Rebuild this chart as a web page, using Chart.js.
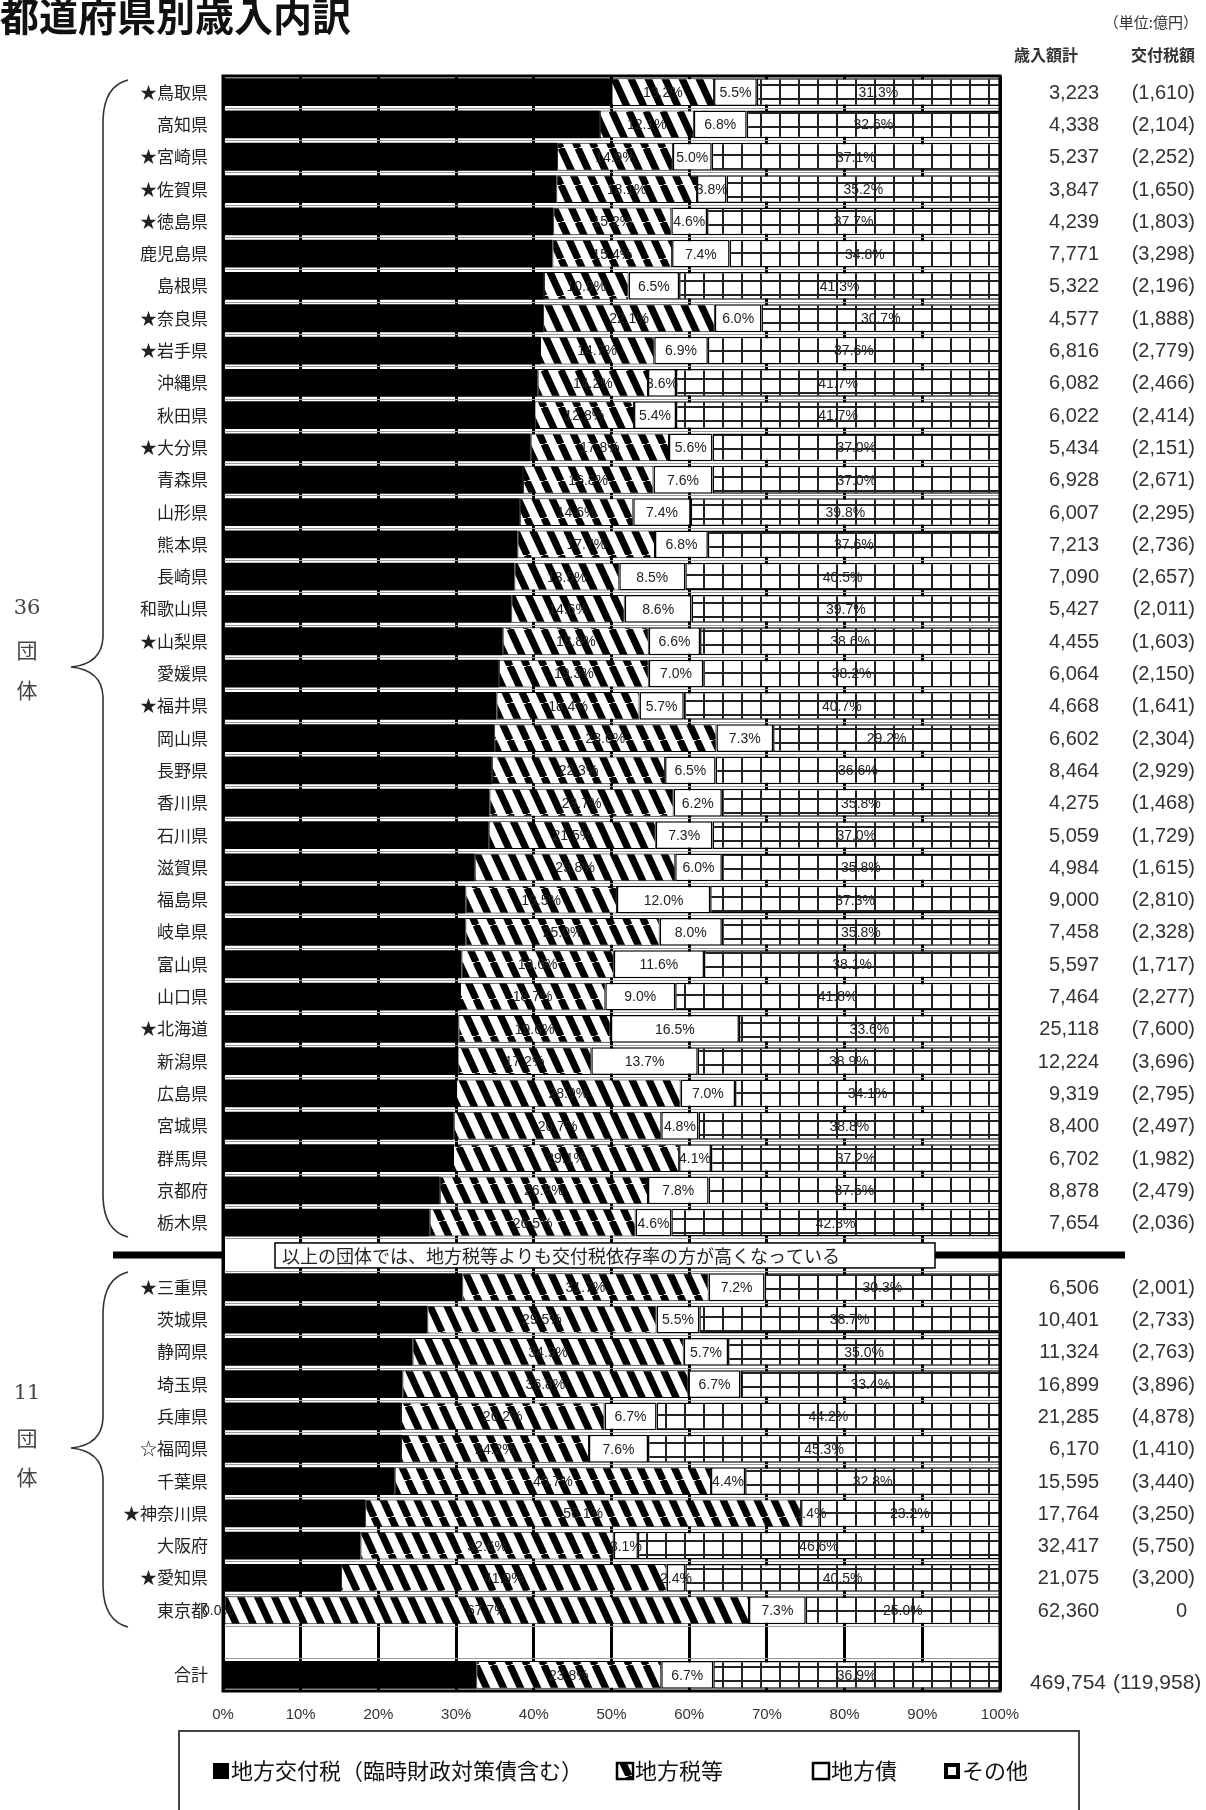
<!DOCTYPE html>
<html lang="ja">
<head>
<meta charset="utf-8">
<title>都道府県別歳入内訳</title>
<script src="https://cdn.jsdelivr.net/npm/chart.js@4.4.1/dist/chart.umd.min.js"></script>
<style>
  html, body { margin: 0; padding: 0; background: #fff; }
  #wrap { width: 1206px; height: 1810px; }
</style>
</head>
<body>
<div id="wrap"><canvas id="kaikei" width="1206" height="1810"></canvas></div>
<script>
// 団体名 (上から順、最後は合計)
var dantai = ['★鳥取県', '高知県', '★宮崎県', '★佐賀県', '★徳島県', '鹿児島県', '島根県', '★奈良県', '★岩手県', '沖縄県',
  '秋田県', '★大分県', '青森県', '山形県', '熊本県', '長崎県', '和歌山県', '★山梨県', '愛媛県', '★福井県',
  '岡山県', '長野県', '香川県', '石川県', '滋賀県', '福島県', '岐阜県', '富山県', '山口県', '★北海道',
  '新潟県', '広島県', '宮城県', '群馬県', '京都府', '栃木県',
  '★三重県', '茨城県', '静岡県', '埼玉県', '兵庫県', '☆福岡県', '千葉県', '★神奈川県', '大阪府', '★愛知県', '東京都',
  '合計'];

// 構成比 (%)
var kofuzei = [50.0, 48.5, 43.0, 42.9, 42.5, 42.4, 41.3, 41.2, 40.8, 40.5,
  40.1, 39.6, 38.6, 38.2, 37.9, 37.5, 37.1, 36.0, 35.5, 35.2,
  34.9, 34.6, 34.3, 34.2, 32.4, 31.2, 31.2, 30.7, 30.5, 30.3,
  30.2, 30.0, 29.7, 29.6, 27.9, 26.6,
  30.8, 26.3, 24.4, 23.1, 22.9, 22.9, 22.1, 18.3, 17.7, 15.2, 0.0,
  32.6];
var chihozei = [13.2, 12.1, 14.9, 18.1, 15.2, 15.4, 10.9, 22.1, 14.7, 14.2,
  12.8, 17.8, 16.8, 14.6, 17.7, 13.5, 14.6, 18.8, 19.3, 18.4,
  28.6, 22.3, 23.7, 21.5, 25.8, 19.5, 25.0, 19.6, 18.7, 19.6,
  17.2, 28.9, 26.7, 29.1, 26.8, 26.5,
  31.7, 29.5, 34.9, 36.8, 26.2, 24.2, 40.7, 56.1, 32.6, 41.9, 67.7,
  23.8];
var chihosai = [5.5, 6.8, 5.0, 3.8, 4.6, 7.4, 6.5, 6.0, 6.9, 3.6,
  5.4, 5.6, 7.6, 7.4, 6.8, 8.5, 8.6, 6.6, 7.0, 5.7,
  7.3, 6.5, 6.2, 7.3, 6.0, 12.0, 8.0, 11.6, 9.0, 16.5,
  13.7, 7.0, 4.8, 4.1, 7.8, 4.6,
  7.2, 5.5, 5.7, 6.7, 6.7, 7.6, 4.4, 2.4, 3.1, 2.4, 7.3,
  6.7];
var sonota = [31.3, 32.6, 37.1, 35.2, 37.7, 34.8, 41.3, 30.7, 37.6, 41.7,
  41.7, 37.0, 37.0, 39.8, 37.6, 40.5, 39.7, 38.6, 38.2, 40.7,
  29.2, 36.6, 35.8, 37.0, 35.8, 37.3, 35.8, 38.1, 41.8, 33.6,
  38.9, 34.1, 38.8, 37.2, 37.5, 42.3,
  30.3, 38.7, 35.0, 33.4, 44.2, 45.3, 32.8, 23.2, 46.6, 40.5, 25.0,
  36.9];

// 歳入額計・交付税額 (億円)
var sainyu = [3223, 4338, 5237, 3847, 4239, 7771, 5322, 4577, 6816, 6082,
  6022, 5434, 6928, 6007, 7213, 7090, 5427, 4455, 6064, 4668,
  6602, 8464, 4275, 5059, 4984, 9000, 7458, 5597, 7464, 25118,
  12224, 9319, 8400, 6702, 8878, 7654,
  6506, 10401, 11324, 16899, 21285, 6170, 15595, 17764, 32417, 21075, 62360,
  469754];
var kofugaku = [1610, 2104, 2252, 1650, 1803, 3298, 2196, 1888, 2779, 2466,
  2414, 2151, 2671, 2295, 2736, 2657, 2011, 1603, 2150, 1641,
  2304, 2929, 1468, 1729, 1615, 2810, 2328, 1717, 2277, 7600,
  3696, 2795, 2497, 1982, 2479, 2036,
  2001, 2733, 2763, 3896, 4878, 1410, 3440, 3250, 5750, 3200, 0,
  119958];

var hanrei = ['地方交付税（臨時財政対策債含む）', '地方税等', '地方債', 'その他'];
var nota = '以上の団体では、地方税等よりも交付税依存率の方が高くなっている';

// 36団体と11団体の間、東京都と合計の間に空き行を入れる
function comEspaco(arr, vazio) {
  return arr.slice(0, 36).concat([vazio], arr.slice(36, 47), [vazio], arr.slice(47));
}

function fmt(n) { return n.toLocaleString('en-US'); }

// 斜線
function padraoHachura() {
  var c = document.createElement('canvas');
  c.width = 17; c.height = 37;
  var g = c.getContext('2d');
  g.fillStyle = '#fff'; g.fillRect(0, 0, 17, 37);
  g.strokeStyle = '#000'; g.lineWidth = 7;
  [-17, 0, 17].forEach(function (o) {
    g.beginPath(); g.moveTo(o, 0); g.lineTo(o + 17, 37); g.stroke();
  });
  return g.createPattern(c, 'repeat');
}
// 格子
function padraoGrade() {
  var c = document.createElement('canvas');
  c.width = 19; c.height = 14;
  var g = c.getContext('2d');
  g.fillStyle = '#fff'; g.fillRect(0, 0, 19, 14);
  g.fillStyle = '#222';
  g.fillRect(0, 0, 2, 14);
  g.fillRect(0, 0, 19, 2);
  return g.createPattern(c, 'repeat');
}

var hachura = padraoHachura();
var grade = padraoGrade();

var FONT_JP = '"Noto Sans CJK JP", "Noto Sans", sans-serif';
var FONT_NUM = '"Liberation Sans Narrow", "Liberation Sans", sans-serif';

function chave(ctx, x, top, mid, bottom) {
  ctx.beginPath();
  ctx.moveTo(x + 25, top);
  ctx.quadraticCurveTo(x + 1, top + 6, x, top + 40);
  ctx.lineTo(x, mid - 30);
  ctx.quadraticCurveTo(x - 1, mid - 3, x - 32, mid);
  ctx.quadraticCurveTo(x - 1, mid + 3, x, mid + 30);
  ctx.lineTo(x, bottom - 40);
  ctx.quadraticCurveTo(x + 1, bottom - 6, x + 25, bottom);
  ctx.stroke();
}

var decor = {
  id: 'decor',
  afterDatasetsDraw: function (chart) {
    var ctx = chart.ctx, a = chart.chartArea;
    ctx.save();
    // パーセント表示
    ctx.font = '14px ' + FONT_NUM;
    ctx.fillStyle = '#222';
    ctx.textAlign = 'center';
    ctx.textBaseline = 'middle';
    for (var d = 1; d < 4; d++) {
      var dados = chart.data.datasets[d].data;
      chart.getDatasetMeta(d).data.forEach(function (bar, i) {
        if (dados[i] == null) return;
        ctx.fillText(dados[i].toFixed(1) + '%', (bar.x + bar.base) / 2, bar.y + 1);
      });
    }
    var d0 = chart.data.datasets[0].data;
    chart.getDatasetMeta(0).data.forEach(function (bar, i) {
      if (d0[i] === 0) ctx.fillText('0.0%', a.left - 5, bar.y + 1);
    });
    // 枠
    ctx.lineWidth = 3;
    ctx.strokeStyle = '#000';
    ctx.strokeRect(a.left, a.top, a.right - a.left, a.bottom - a.top);
    // 区切り線
    var ys = chart.scales.y.getPixelForValue(36);
    ctx.lineWidth = 7;
    ctx.beginPath();
    ctx.moveTo(113, ys); ctx.lineTo(a.left, ys);
    ctx.moveTo(935, ys); ctx.lineTo(1125, ys);
    ctx.stroke();
    ctx.fillStyle = '#fff';
    ctx.fillRect(275, ys - 12, 660, 25);
    ctx.lineWidth = 1.5;
    ctx.strokeRect(275, ys - 12, 660, 25);
    ctx.fillStyle = '#222';
    ctx.textAlign = 'left';
    ctx.font = '18px ' + FONT_JP;
    ctx.fillText(nota, 282, ys + 1);
    ctx.restore();
  },
  afterDraw: function (chart) {
    var ctx = chart.ctx, ys = chart.scales.y;
    ctx.save();
    ctx.textBaseline = 'middle';
    ctx.fillStyle = '#111';

    // 表題
    ctx.font = 'bold 39px ' + FONT_JP;
    ctx.textAlign = 'left';
    ctx.fillText('都道府県別歳入内訳', 0, 16);

    ctx.fillStyle = '#333';
    ctx.font = '15px ' + FONT_JP;
    ctx.textAlign = 'right';
    ctx.fillText('（単位:億円）', 1198, 22);
    ctx.font = 'bold 16px ' + FONT_JP;
    ctx.textAlign = 'center';
    ctx.fillText('歳入額計', 1046, 55);
    ctx.fillText('交付税額', 1163, 55);

    // 右側の金額
    ctx.font = '20px ' + FONT_NUM;
    var sa = comEspaco(sainyu, null), ko = comEspaco(kofugaku, null);
    var ultimo = sa.length - 1;
    sa.forEach(function (v, i) {
      if (v == null) return;
      var py = ys.getPixelForValue(i) + 1;
      if (i === ultimo) {
        py += 7;
        ctx.font = '21px ' + FONT_NUM;
        ctx.textAlign = 'right';
        ctx.fillText(fmt(v), 1106, py);
        ctx.textAlign = 'left';
        ctx.fillText('(' + fmt(ko[i]) + ')', 1113, py);
        return;
      }
      ctx.textAlign = 'right';
      ctx.fillText(fmt(v), 1099, py);
      if (ko[i] === 0) ctx.fillText('0', 1187, py);
      else ctx.fillText('(' + fmt(ko[i]) + ')', 1195, py);
    });

    // 中括弧と団体数
    ctx.strokeStyle = '#333';
    ctx.lineWidth = 1.6;
    chave(ctx, 103, 80, 667, 1237);
    chave(ctx, 103, 1272, 1448, 1627);
    ctx.textAlign = 'center';
    ctx.fillStyle = '#444';
    ctx.font = '21px "DejaVu Serif", serif';
    ctx.fillText('36', 27, 609);
    ctx.fillText('11', 27, 1394);
    ctx.font = '21px ' + FONT_JP;
    ctx.fillText('団', 27, 650);
    ctx.fillText('体', 27, 690);
    ctx.fillText('団', 27, 1438);
    ctx.fillText('体', 27, 1477);

    // 凡例
    ctx.strokeStyle = '#444';
    ctx.lineWidth = 2;
    ctx.strokeRect(179, 1731, 900, 100);
    var yl = 1771, lado = 16;
    var pos = [213, 617, 813, 944];
    pos.forEach(function (x, k) {
      var top = yl - lado / 2;
      if (k === 0) {
        ctx.fillStyle = '#000'; ctx.fillRect(x, top, lado, lado);
      } else if (k === 1) {
        ctx.fillStyle = hachura; ctx.fillRect(x, top, lado, lado);
        ctx.strokeStyle = '#000'; ctx.lineWidth = 2.5; ctx.strokeRect(x, top, lado, lado);
      } else if (k === 2) {
        ctx.fillStyle = '#fff'; ctx.fillRect(x, top, lado, lado);
        ctx.strokeStyle = '#000'; ctx.lineWidth = 2.5; ctx.strokeRect(x, top, lado, lado);
      } else {
        ctx.fillStyle = '#000'; ctx.fillRect(x, top, lado, lado);
        ctx.fillStyle = '#fff'; ctx.fillRect(x + 4, top + 4, lado - 8, lado - 8);
      }
      ctx.fillStyle = '#111';
      ctx.font = '22px ' + FONT_JP;
      ctx.textAlign = 'left';
      ctx.fillText(hanrei[k], x + lado + 2, yl);
    });
    ctx.restore();
  }
};

var ctx1 = document.getElementById('kaikei');
var grafico = new Chart(ctx1, {
  type: 'bar',
  data: {
    labels: comEspaco(dantai, ''),
    datasets: [{
      label: hanrei[0],
      data: comEspaco(kofuzei, null),
      backgroundColor: '#000',
      borderWidth: 0
    }, {
      label: hanrei[1],
      data: comEspaco(chihozei, null),
      backgroundColor: hachura,
      borderColor: '#000',
      borderWidth: 1,
      borderSkipped: false
    }, {
      label: hanrei[2],
      data: comEspaco(chihosai, null),
      backgroundColor: '#fff',
      borderColor: '#000',
      borderWidth: 1.5,
      borderSkipped: false
    }, {
      label: hanrei[3],
      data: comEspaco(sonota, null),
      backgroundColor: grade,
      borderColor: '#000',
      borderWidth: 1.5,
      borderSkipped: false
    }]
  },
  options: {
    indexAxis: 'y',
    responsive: false,
    animation: false,
    devicePixelRatio: 1,
    datasets: { bar: { categoryPercentage: 0.86, barPercentage: 1.0 } },
    layout: { padding: { left: 0, right: 206, top: 76, bottom: 79 } },
    plugins: {
      legend: { display: false },
      tooltip: { enabled: false }
    },
    scales: {
      x: {
        stacked: true,
        min: 0,
        max: 100,
        afterFit: function (s) { s.height = 40; },
        ticks: {
          stepSize: 10,
          padding: 15,
          color: '#333',
          font: { family: FONT_NUM, size: 15 },
          callback: function (v) { return v + '%'; }
        },
        grid: { color: '#000', lineWidth: 3, drawTicks: false },
        border: { display: false }
      },
      y: {
        stacked: true,
        afterFit: function (s) { s.width = 223; },
        ticks: {
          autoSkip: false,
          padding: 15,
          color: '#222',
          font: { family: FONT_JP, size: 17 }
        },
        grid: { color: '#9a9a9a', lineWidth: 1, drawTicks: false, offset: true },
        border: { display: false }
      }
    }
  },
  plugins: [decor]
});
</script>
</body>
</html>
